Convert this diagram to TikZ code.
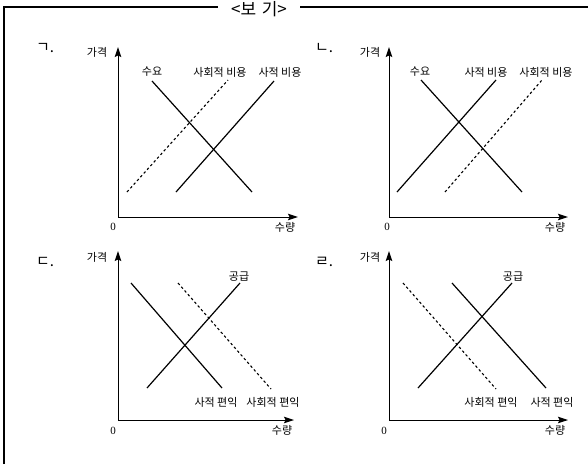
\documentclass[tikz,border=0pt]{standalone}
\usepackage{fontspec}
\newfontfamily\kr{Noto Sans CJK KR}
\setmainfont{Liberation Serif}
\usetikzlibrary{arrows.meta}
\tikzset{
  axis/.style={line width=1pt,-{Stealth[length=10pt,width=6.5pt,inset=1.5pt]}},
  curve/.style={line width=1.2pt},
  dcurve/.style={line width=1.1pt,dash pattern=on 2.5pt off 2.5pt},
  lbl/.style={font=\kr\fontsize{11}{11}\selectfont,inner sep=0pt},
  panel/.style={font=\kr\fontsize{15}{15}\selectfont,inner sep=0pt},
  zero/.style={font=\fontsize{11}{11}\selectfont,inner sep=0pt},
  frame/.style={line width=1.5pt}
}
\begin{document}
\begin{tikzpicture}[x=1pt,y=-1pt]
\useasboundingbox (0,0) rectangle (588,464);
% frame
\node[font=\kr\fontsize{17}{17}\selectfont,inner sep=0pt] (title) at (259,9) {<보\,\,기>};
\coordinate (fl) at (4,464);
\coordinate (ftl) at (4,7);
\coordinate (fa) at (218,7);
\coordinate (fb) at (300,7);
\coordinate (fr) at (588,7);
\draw[frame] (fl) -- (ftl) -- (fa);
\draw[frame] (fb) -- (fr);

% ---------- panel ㄱ ----------
\node[panel] (pa) at (45,48) {ㄱ.};
\coordinate (ao) at (118,217);
\coordinate (ay) at (118,47);
\coordinate (ax) at (298,217);
\draw[axis] (ao) -- (ay);
\draw[axis] (ao) -- (ax);
\node[lbl] (apr) at (97,52) {가격};
\node[zero] (a0) at (113,227) {0};
\node[lbl] (aq) at (285,227) {수량};
\coordinate (ad1) at (152,81); \coordinate (ad2) at (252,192);
\coordinate (ap1) at (176,192); \coordinate (ap2) at (274,81);
\coordinate (as1) at (127,192); \coordinate (as2) at (228,80);
\draw[curve] (ad1) -- (ad2);
\draw[curve] (ap1) -- (ap2);
\draw[dcurve] (as1) -- (as2);
\node[lbl] (adl) at (152,72) {수요};
\node[lbl] (asl) at (220,72) {사회적 비용};
\node[lbl] (apl) at (280,72) {사적 비용};

% ---------- panel ㄴ ----------
\node[panel] (pb) at (324,48) {ㄴ.};
\coordinate (bo) at (389,217);
\coordinate (by) at (389,47);
\coordinate (bx) at (568,217);
\draw[axis] (bo) -- (by);
\draw[axis] (bo) -- (bx);
\node[lbl] (bpr) at (370,52) {가격};
\node[zero] (b0) at (387,227) {0};
\node[lbl] (bq) at (555,227) {수량};
\coordinate (bd1) at (421,80); \coordinate (bd2) at (522,192);
\coordinate (bp1) at (397,192); \coordinate (bp2) at (496,80);
\coordinate (bs1) at (445,192); \coordinate (bs2) at (542,80);
\draw[curve] (bd1) -- (bd2);
\draw[curve] (bp1) -- (bp2);
\draw[dcurve] (bs1) -- (bs2);
\node[lbl] (bdl) at (420,72) {수요};
\node[lbl] (bpl) at (486,72) {사적 비용};
\node[lbl] (bsl) at (546,72) {사회적 비용};

% ---------- panel ㄷ ----------
\node[panel] (pc) at (45,262) {ㄷ.};
\coordinate (co) at (118,420);
\coordinate (cy) at (118,251);
\coordinate (cx) at (294,420);
\draw[axis] (co) -- (cy);
\draw[axis] (co) -- (cx);
\node[lbl] (cpr) at (97,257) {가격};
\node[zero] (c0) at (113,431) {0};
\node[lbl] (cq) at (282,430) {수량};
\coordinate (cb1) at (131,283); \coordinate (cb2) at (222,388);
\coordinate (cs1) at (147,388); \coordinate (cs2) at (240,283);
\coordinate (cx1) at (178,283); \coordinate (cx2) at (271,389);
\draw[curve] (cb1) -- (cb2);
\draw[curve] (cs1) -- (cs2);
\draw[dcurve] (cx1) -- (cx2);
\node[lbl] (csl) at (239,277) {공급};
\node[lbl] (cbl) at (216,402) {사적 편익};
\node[lbl] (cxl) at (273,402) {사회적 편익};

% ---------- panel ㄹ ----------
\node[panel] (pd) at (324,262) {ㄹ.};
\coordinate (do) at (389,420);
\coordinate (dy) at (389,251);
\coordinate (dx) at (568,420);
\draw[axis] (do) -- (dy);
\draw[axis] (do) -- (dx);
\node[lbl] (dpr) at (370,257) {가격};
\node[zero] (d0) at (384,431) {0};
\node[lbl] (dq) at (555,430) {수량};
\coordinate (dx1) at (403,283); \coordinate (dx2) at (496,389);
\coordinate (db1) at (452,283); \coordinate (db2) at (546,388);
\coordinate (ds1) at (418,388); \coordinate (ds2) at (512,283);
\draw[dcurve] (dx1) -- (dx2);
\draw[curve] (db1) -- (db2);
\draw[curve] (ds1) -- (ds2);
\node[lbl] (dsl) at (513,277) {공급};
\node[lbl] (dxl) at (491,402) {사회적 편익};
\node[lbl] (dbl) at (552,402) {사적 편익};
\end{tikzpicture}
\end{document}
